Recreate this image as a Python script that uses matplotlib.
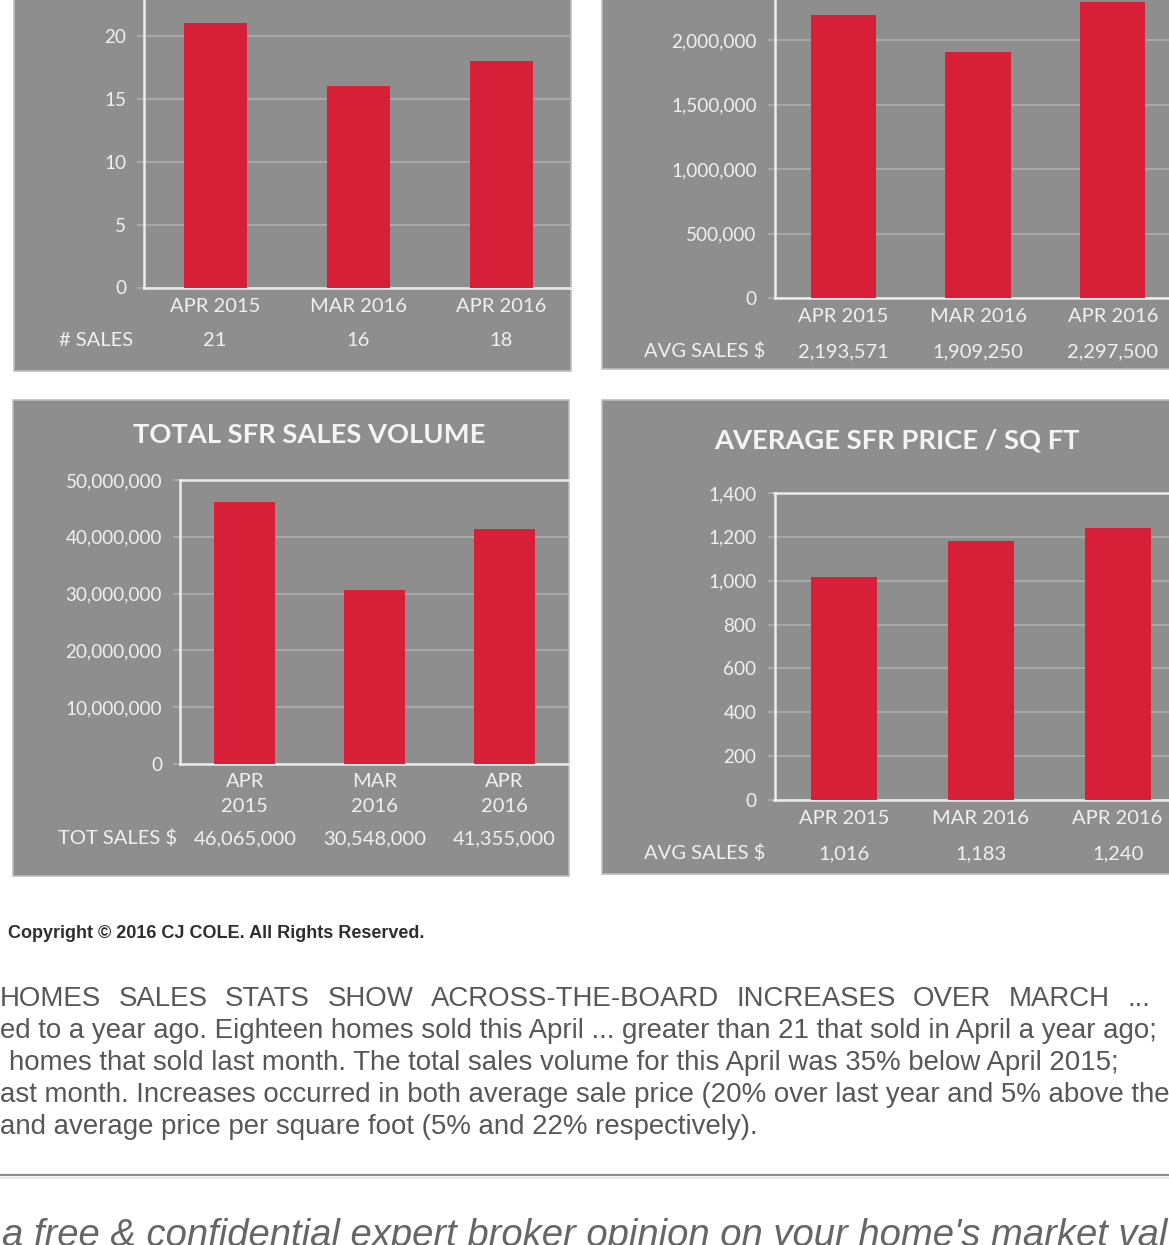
import matplotlib
matplotlib.use('Agg')
import matplotlib.pyplot as plt
import matplotlib.transforms as mtransforms
import matplotlib.ticker as mticker
from matplotlib.patches import Rectangle
from matplotlib.lines import Line2D

# data
months = ['APR 2015', 'MAR 2016', 'APR 2016']
num_sales = [21, 16, 18]
avg_sale_price = [2193571, 1909250, 2297500]
total_volume = [46065000, 30548000, 41355000]
price_per_sqft = [1016, 1183, 1240]

ticks_sales = [0, 5, 10, 15, 20]
ticks_price = [0, 500000, 1000000, 1500000, 2000000]
ticks_volume = [0, 10000000, 20000000, 30000000, 40000000, 50000000]
ticks_sqft = [0, 200, 400, 600, 800, 1000, 1200, 1400]

copyright_text = 'Copyright \u00a9 2016 CJ COLE. All Rights Reserved.'
headline_words = ['HOMES', 'SALES', 'STATS', 'SHOW', 'ACROSS-THE-BOARD',
                  'INCREASES', 'OVER', 'MARCH', '...', 'I']
body_lines = [
    'ed to a year ago. Eighteen homes sold this April ... greater than 21 that sold in April a year ago;',
    'homes that sold last month. The total sales volume for this April was 35% below April 2015;',
    'ast month. Increases occurred in both average sale price (20% over last year and 5% above the',
    'and average price per square foot (5% and 22% respectively).',
]
footer_text = "a free & confidential expert broker opinion on your home's market value"

W, H = 1169, 1245
PANEL = '#8e8e8e'
RED = '#d81f38'
LIGHT = '#f0f0f0'
GRID = '#a9a9a9'
AXIS = '#ececec'

plt.rcParams['font.family'] = ['Lato', 'DejaVu Sans']

fig = plt.figure(figsize=(W / 100, H / 100), dpi=100, facecolor='white')
# pixel transform, origin top-left
px = mtransforms.Affine2D().scale(1 / W, -1 / H).translate(0, 1) + fig.transFigure


def panel(x0, y0, x1, y1):
    fig.add_artist(Rectangle((x0, y0), x1 - x0, y1 - y0, transform=px,
                             facecolor=PANEL, edgecolor='#bdbdbd', lw=1.2, zorder=0))


def make_ax(left, right, y0, ref_px, ref_val, top, centers, width_px):
    scale = (y0 - ref_px) / ref_val
    ymax = (y0 - top) / scale
    ax = fig.add_axes([left / W, 1 - y0 / H, (right - left) / W, (y0 - top) / H])
    ax.set_facecolor('none')
    ax.set_ylim(0, ymax)
    step = (centers[1] - centers[0])
    ax.set_xlim(-(centers[0] - left) / step, 2 + (right - centers[2]) / step)
    for s in ['right', 'top']:
        ax.spines[s].set_visible(False)
    for s in ['left', 'bottom']:
        ax.spines[s].set_color(AXIS)
        ax.spines[s].set_linewidth(1.8)
    ax.set_xticks([])
    ax.yaxis.grid(True, color=GRID, lw=1.4)
    ax.set_axisbelow(True)
    ax.tick_params(axis='y', length=5, width=1.4, color=GRID, pad=8,
                   labelcolor=LIGHT, labelsize=13.6)
    ax.yaxis.set_major_formatter(mticker.FuncFormatter(lambda v, p: '{:,.0f}'.format(v)))
    return ax, width_px / step


def bottom_text(ax, labels, y, size=14.5):
    tr = mtransforms.blended_transform_factory(ax.transData, px)
    for i, lab in enumerate(labels):
        ax.text(i, y, lab, transform=tr, ha='center', va='baseline',
                color=LIGHT, fontsize=size, clip_on=False)


def fig_text(x, y, s, **kw):
    kw.setdefault('color', LIGHT)
    kw.setdefault('fontsize', 14.5)
    return fig.text(x / W, 1 - y / H, s, va='baseline', **kw)


x = range(len(months))

# panel 1: number of sales
panel(14, -10, 571, 371)
ax1, w1 = make_ax(144, 571, 287.5, 36, 20, -5, [215, 358, 501], 63)
ax1.bar(x, num_sales, width=w1, color=RED, zorder=3)
ax1.set_yticks(ticks_sales)
bottom_text(ax1, months, 312)
bottom_text(ax1, [str(v) for v in num_sales], 346)
fig_text(96, 346, '# SALES', ha='center')

# panel 2: average sale price
panel(602, -10, 1180, 369)
ax2, w2 = make_ax(774.5, 1180, 298, 40, 2000000, -5, [843, 977.5, 1113], 65)
ax2.bar(x, avg_sale_price, width=w2, color=RED, zorder=3)
ax2.set_yticks(ticks_price)
bottom_text(ax2, months, 322)
bottom_text(ax2, ['{:,}'.format(v) for v in avg_sale_price], 357)
fig_text(705, 357, 'AVG SALES $', ha='center')

# panel 3: total sales volume
panel(13, 400, 569, 876)
ax3, w3 = make_ax(180, 569, 764, 480, 50000000, 480, [245, 375, 504], 61)
ax3.spines['top'].set_visible(True)
ax3.spines['top'].set_color(AXIS)
ax3.spines['top'].set_linewidth(1.8)
ax3.bar(x, total_volume, width=w3, color=RED, zorder=3)
ax3.set_yticks(ticks_volume)
bottom_text(ax3, [m.split()[0] for m in months], 787)
bottom_text(ax3, [m.split()[1] for m in months], 812)
bottom_text(ax3, ['{:,}'.format(v) for v in total_volume], 844)
fig_text(118, 844, 'TOT SALES $', ha='center')
fig_text(309.5, 443, 'TOTAL SFR SALES VOLUME', ha='center', fontsize=19.7,
         fontweight='bold', color='#f4f4f4')

# panel 4: price per square foot
panel(602, 400, 1180, 874)
ax4, w4 = make_ax(774.5, 1180, 800, 493, 1400, 493, [844, 981, 1117.5], 66)
ax4.spines['top'].set_visible(True)
ax4.spines['top'].set_color(AXIS)
ax4.spines['top'].set_linewidth(1.8)
ax4.bar(x, price_per_sqft, width=w4, color=RED, zorder=3)
ax4.set_yticks(ticks_sqft)
bottom_text(ax4, months, 824)
bottom_text(ax4, ['{:,}'.format(v) for v in price_per_sqft], 859)
fig_text(705, 859, 'AVG SALES $', ha='center')
fig_text(897, 448, 'AVERAGE SFR PRICE / SQ FT', ha='center', fontsize=19.7,
         fontweight='bold', color='#f4f4f4')

# text below the charts
body = dict(family=['Liberation Sans', 'DejaVu Sans'], color='#575757', fontsize=19.9)
fig_text(8, 938, copyright_text, family=['Liberation Sans', 'DejaVu Sans'],
         fontweight='bold', fontsize=13.0, color='#2e2e2e')

# first line is justified: words spread with a fixed gap
renderer = fig.canvas.get_renderer()
xpos = 0
for word in headline_words:
    t = fig_text(xpos, 1006, word, **body)
    xpos = t.get_window_extent(renderer).x1 + 17.4

starts = [0, 9, 0, 0]
for i, line in enumerate(body_lines):
    fig_text(starts[i], 1038 + 32 * i, line, **body)

fig.add_artist(Line2D([0, W], [1175, 1175], transform=px, color='#8c8c8c', lw=1.6))
fig.add_artist(Line2D([0, W], [1177.5, 1177.5], transform=px, color='#e8e8e8', lw=1.4))

fig_text(2, 1246, footer_text, family=['Liberation Sans', 'DejaVu Sans'],
         style='italic', fontsize=27.5, color='#666666')

fig.savefig('out.png', dpi=100, facecolor='white')
